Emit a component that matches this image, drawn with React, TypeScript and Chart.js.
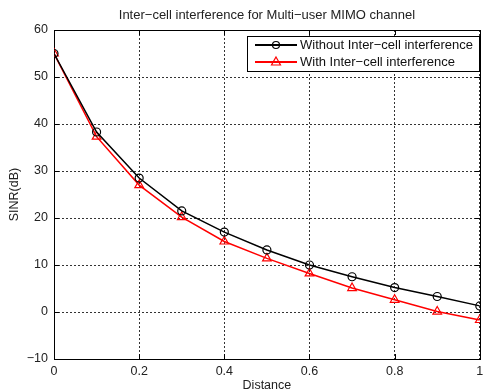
import React, { useEffect, useRef } from 'react';
import { Chart, registerables } from 'chart.js';

Chart.register(...registerables);

const distances = [0, 0.1, 0.2, 0.3, 0.4, 0.5, 0.6, 0.7, 0.8, 0.9, 1.0];
const sinrWithout = [55, 38.3, 28.5, 21.5, 17, 13.2, 10, 7.5, 5.2, 3.3, 1.3];
const sinrWith = [55, 37.3, 27, 20.2, 15, 11.4, 8.2, 5.1, 2.6, 0.1, -1.7];
const seriesLabels = ['Without Inter\u2212cell interference', 'With Inter\u2212cell interference'];
const chartTitle = 'Inter\u2212cell interference for Multi\u2212user MIMO channel';
const xTitle = 'Distance';
const yTitle = 'SINR(dB)';

const FONT = '"Liberation Sans", Arial, sans-serif';

const overlayPlugin = {
  id: 'matlabOverlay',
  beforeDatasetsDraw(chart: any) {
    const { ctx, chartArea: a, scales } = chart;
    ctx.save();
    ctx.strokeStyle = '#000';
    ctx.lineWidth = 1;
    ctx.setLineDash([]);
    ctx.strokeRect(Math.round(a.left) + 0.5, Math.round(a.top) + 0.5, Math.round(a.right - a.left), Math.round(a.bottom - a.top));
    const tl = 5;
    scales.x.ticks.forEach((t: any) => {
      const px = Math.round(scales.x.getPixelForValue(t.value)) + 0.5;
      ctx.beginPath();
      ctx.moveTo(px, a.bottom); ctx.lineTo(px, a.bottom - tl);
      ctx.moveTo(px, a.top); ctx.lineTo(px, a.top + tl);
      ctx.stroke();
    });
    scales.y.ticks.forEach((t: any) => {
      const py = Math.round(scales.y.getPixelForValue(t.value)) + 0.5;
      ctx.beginPath();
      ctx.moveTo(a.left, py); ctx.lineTo(a.left + tl, py);
      ctx.moveTo(a.right, py); ctx.lineTo(a.right - tl, py);
      ctx.stroke();
    });
    ctx.restore();
  },
  afterDraw(chart: any) {
    const { ctx, chartArea: a } = chart;
    ctx.save();
    const cx = (a.left + a.right) / 2;
    ctx.fillStyle = '#222';
    ctx.font = `13px ${FONT}`;
    ctx.textAlign = 'center';
    ctx.textBaseline = 'middle';
    ctx.fillText(chartTitle, cx, 15);
    ctx.font = `12.5px ${FONT}`;
    ctx.fillText(xTitle, cx, 386);
    ctx.save();
    ctx.translate(15, (a.top + a.bottom) / 2);
    ctx.rotate(-Math.PI / 2);
    ctx.fillText(yTitle, 0, 0);
    ctx.restore();
    // legend
    const lx = 247, ly = 36, lw = 232, lh = 35;
    ctx.fillStyle = '#fff';
    ctx.fillRect(lx, ly, lw, lh);
    ctx.strokeStyle = '#000';
    ctx.lineWidth = 1;
    ctx.setLineDash([]);
    ctx.strokeRect(lx + 0.5, ly + 0.5, lw, lh);
    chart.data.datasets.forEach((ds: any, i: number) => {
      const y = 45 + i * 17;
      ctx.strokeStyle = ds.borderColor;
      ctx.lineWidth = 2;
      ctx.beginPath();
      ctx.moveTo(255, y); ctx.lineTo(297, y);
      ctx.stroke();
      ctx.lineWidth = 1.2;
      ctx.beginPath();
      if (ds.pointStyle === 'circle') {
        ctx.arc(276, y, 3.5, 0, Math.PI * 2);
      } else {
        ctx.moveTo(276, y - 5);
        ctx.lineTo(280.5, y + 3);
        ctx.lineTo(271.5, y + 3);
        ctx.closePath();
      }
      ctx.stroke();
      ctx.fillStyle = '#111';
      ctx.font = `13px ${FONT}`;
      ctx.textAlign = 'left';
      ctx.textBaseline = 'middle';
      ctx.fillText(ds.label, 300, y);
    });
    ctx.restore();
  },
};

export default function App() {
  const ref = useRef<HTMLCanvasElement>(null);
  useEffect(() => {
    if (!ref.current) return;
    const chart = new Chart(ref.current, {
      type: 'line',
      data: {
        datasets: [
          {
            label: seriesLabels[0],
            data: distances.map((d, i) => ({ x: d, y: sinrWithout[i] })),
            borderColor: '#000',
            backgroundColor: 'rgba(0,0,0,0)',
            borderWidth: 1.5,
            pointStyle: 'circle',
            pointRadius: 4,
            pointBorderWidth: 1.2,
            pointBorderColor: '#000',
            pointBackgroundColor: 'rgba(0,0,0,0)',
            tension: 0,
          },
          {
            label: seriesLabels[1],
            data: distances.map((d, i) => ({ x: d, y: sinrWith[i] })),
            borderColor: '#ff0000',
            backgroundColor: 'rgba(0,0,0,0)',
            borderWidth: 1.5,
            pointStyle: 'triangle',
            pointRadius: 5,
            pointBorderWidth: 1.2,
            pointBorderColor: '#ff0000',
            pointBackgroundColor: 'rgba(0,0,0,0)',
            tension: 0,
          },
        ],
      },
      options: {
        responsive: false,
        animation: false,
        devicePixelRatio: 1,
        layout: { padding: { top: 30, right: 3, left: 0, bottom: 0 } },
        plugins: { legend: { display: false }, title: { display: false }, tooltip: { enabled: false } },
        scales: {
          x: {
            type: 'linear',
            min: 0,
            max: 1,
            ticks: {
              stepSize: 0.2,
              padding: 5,
              color: '#222',
              font: { family: FONT, size: 12.5 },
              callback: (v: any) => String(parseFloat(Number(v).toFixed(1))),
            },
            grid: { color: '#333', lineWidth: 1, drawTicks: false },
            border: { display: false, dash: [2, 2] },
            afterFit: (s: any) => { s.height = 32; s.paddingRight = 0; s.paddingLeft = 0; },
          },
          y: {
            type: 'linear',
            min: -10,
            max: 60,
            ticks: {
              stepSize: 10,
              padding: 6,
              color: '#222',
              font: { family: FONT, size: 12.5 },
              callback: (v: any) => String(v).replace('-', '\u2212'),
            },
            grid: { color: '#333', lineWidth: 1, drawTicks: false },
            border: { display: false, dash: [2, 2] },
            afterFit: (s: any) => { s.width = 54; },
          },
        },
      },
      plugins: [overlayPlugin],
    });
    return () => chart.destroy();
  }, []);
  return (
    <div style={{ position: 'absolute', left: 0, top: 0, width: 486, height: 391, background: '#fff' }}>
      <canvas ref={ref} width={486} height={391} style={{ display: 'block' }} />
    </div>
  );
}
